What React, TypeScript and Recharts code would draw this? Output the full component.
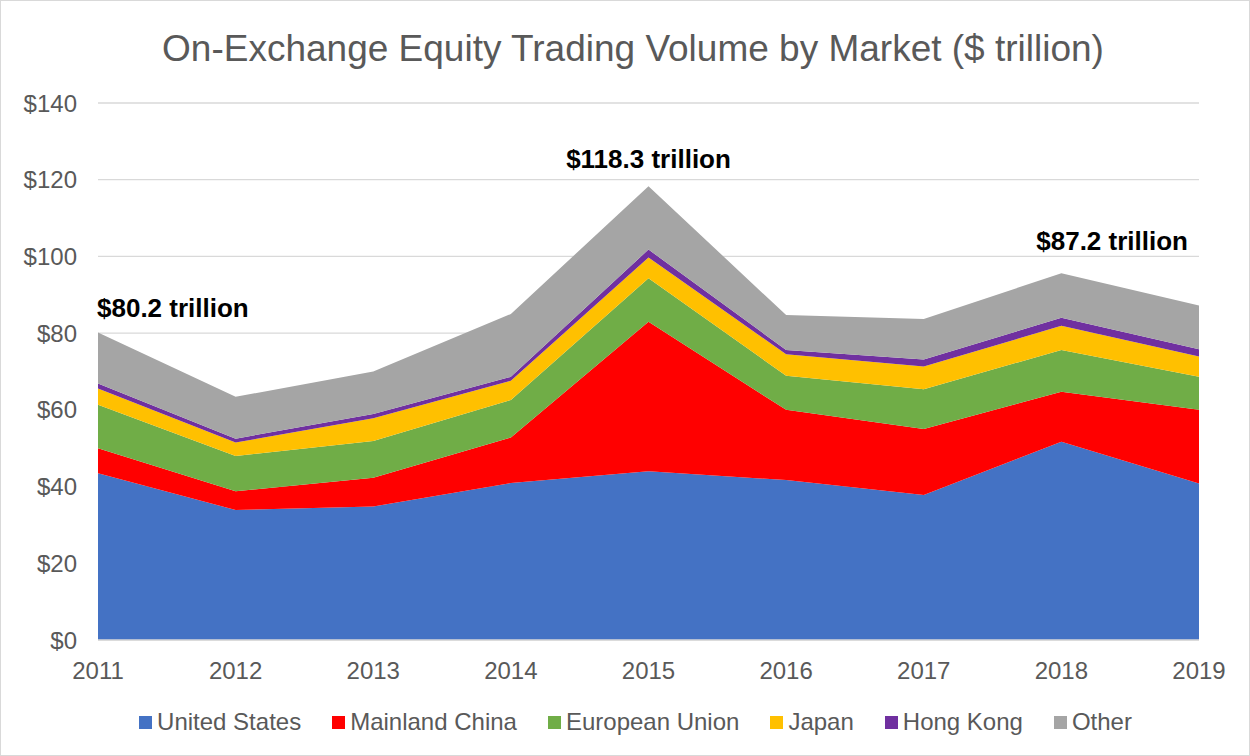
import { AreaChart, Area, XAxis, YAxis, CartesianGrid, Legend, LabelList } from "recharts";

const years = ["2011", "2012", "2013", "2014", "2015", "2016", "2017", "2018", "2019"];
const unitedStates = [43.5, 33.9, 34.8, 40.9, 44.0, 41.7, 37.8, 51.7, 40.8];
const mainlandChina = [6.5, 4.9, 7.5, 11.9, 39.0, 18.3, 17.2, 13.0, 19.2];
const europeanUnion = [11.3, 9.2, 9.6, 9.8, 11.3, 8.9, 10.4, 10.9, 8.6];
const japan = [4.3, 3.5, 5.9, 5.0, 5.4, 5.6, 5.9, 6.3, 5.3];
const hongKong = [1.3, 1.0, 1.1, 1.0, 2.1, 1.1, 1.8, 2.1, 1.9];
const other = [13.3, 10.9, 11.1, 16.4, 16.5, 9.1, 10.6, 11.6, 11.4];
const totalLabels = ["$80.2 trillion", "", "", "", "$118.3 trillion", "", "", "", "$87.2 trillion"];
const yTicks = [0, 20, 40, 60, 80, 100, 120, 140];

const series = [
  { key: "us", name: "United States", values: unitedStates, color: "#4472C4" },
  { key: "cn", name: "Mainland China", values: mainlandChina, color: "#FF0000" },
  { key: "eu", name: "European Union", values: europeanUnion, color: "#70AD47" },
  { key: "jp", name: "Japan", values: japan, color: "#FFC000" },
  { key: "hk", name: "Hong Kong", values: hongKong, color: "#7030A0" },
  { key: "other", name: "Other", values: other, color: "#A5A5A5" },
];

const data = years.map((year, i) => {
  const row: Record<string, string | number> = { year, label: totalLabels[i] };
  series.forEach(s => {
    row[s.key] = s.values[i];
  });
  return row;
});

const FONT = "'Liberation Sans', Arial, sans-serif";

// where each total label sits relative to the top of the stack
const labelPlacement: Record<number, { dx: number; dy: number; anchor: "start" | "middle" | "end" }> = {
  0: { dx: -1, dy: -24, anchor: "start" },
  4: { dx: 0, dy: -27, anchor: "middle" },
  8: { dx: -11, dy: -65, anchor: "end" },
};

function TotalLabel(props: any) {
  const { x, y, index, value } = props;
  const place = labelPlacement[index];
  if (!place || !value) return null;
  return (
    <text
      x={x + place.dx}
      y={y + place.dy}
      textAnchor={place.anchor}
      dominantBaseline="central"
      fontFamily={FONT}
      fontWeight="bold"
      fontSize={26}
      fill="#000000"
    >
      {value}
    </text>
  );
}

function LegendContent() {
  return (
    <div
      style={{
        display: "flex",
        justifyContent: "center",
        alignItems: "center",
        gap: 31,
        height: 36,
        fontFamily: FONT,
        fontSize: 24,
        color: "#595959",
        paddingLeft: 72,
      }}
    >
      {series.map(s => (
        <div key={s.key} style={{ display: "flex", alignItems: "center", gap: 5 }}>
          <span style={{ width: 13, height: 13, background: s.color, display: "inline-block" }} />
          <span>{s.name}</span>
        </div>
      ))}
    </div>
  );
}

export default function App() {
  return (
    <div
      style={{
        position: "absolute",
        left: 0,
        top: 0,
        width: 1250,
        height: 756,
        background: "#ffffff",
        boxSizing: "border-box",
        border: "1px solid #d9d9d9",
      }}
    >
      <div
        style={{
          position: "absolute",
          top: 26,
          left: 0,
          width: 1264,
          textAlign: "center",
          fontFamily: FONT,
          fontSize: 37,
          lineHeight: "44px",
          color: "#595959",
        }}
      >
        On-Exchange Equity Trading Volume by Market ($ trillion)
      </div>
      <div style={{ position: "absolute", left: -1, top: -1 }}>
        <AreaChart width={1250} height={756} data={data} margin={{ top: 103, right: 51, left: 0, bottom: 16 }}>
          <CartesianGrid vertical={false} stroke="#d9d9d9" strokeWidth={1.3} />
          <XAxis
            dataKey="year"
            axisLine={{ stroke: "#d9d9d9", strokeWidth: 1.3 }}
            tickLine={false}
            tickMargin={16}
            height={64}
            tick={{ fill: "#595959", fontSize: 24, fontFamily: FONT }}
            interval={0}
          />
          <YAxis
            width={98}
            domain={[0, 140]}
            ticks={yTicks}
            axisLine={false}
            tickLine={false}
            tickMargin={15}
            tickFormatter={(v: number) => `$${v}`}
            tick={{ fill: "#595959", fontSize: 24, fontFamily: FONT }}
          />
          <Legend verticalAlign="bottom" content={<LegendContent />} />
          {series.map(s => (
            <Area
              key={s.key}
              dataKey={s.key}
              name={s.name}
              stackId="1"
              type="linear"
              stroke="none"
              fill={s.color}
              fillOpacity={1}
              isAnimationActive={false}
            >
              {s.key === "other" && <LabelList dataKey="label" content={<TotalLabel />} />}
            </Area>
          ))}
        </AreaChart>
      </div>
    </div>
  );
}
